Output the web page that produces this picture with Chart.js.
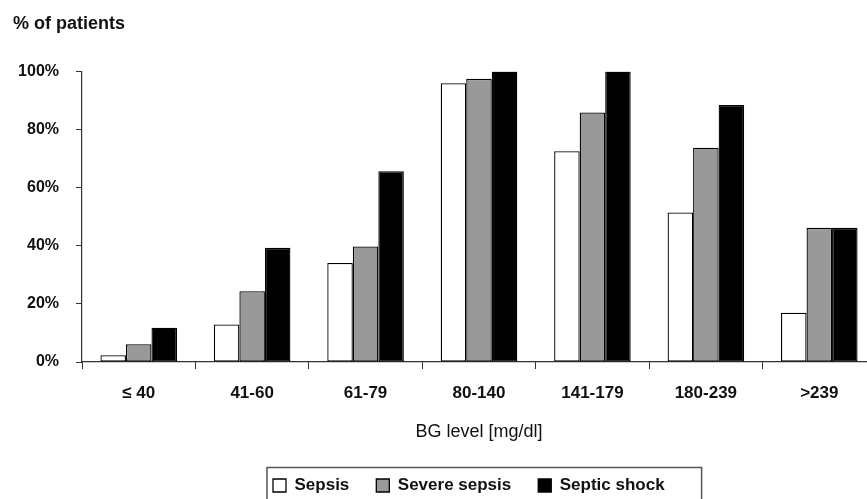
<!DOCTYPE html>
<html>
<head>
<meta charset="utf-8">
<script src="https://cdn.jsdelivr.net/npm/chart.js@4/dist/chart.umd.min.js"></script>
<style>
  html, body { margin: 0; padding: 0; background: #fff; overflow: hidden; width: 867px; height: 499px; }
  #wrap { width: 880px; height: 499px; }
</style>
</head>
<body>
<div id="wrap"><canvas id="c" width="880" height="499"></canvas></div>
<script>
const categories = ['≤ 40', '41-60', '61-79', '80-140', '141-179', '180-239', '>239'];
const seriesNames = ['Sepsis', 'Severe sepsis', 'Septic shock'];
const sepsis = [2.3, 12.9, 34.1, 96.0, 72.6, 51.5, 17.0];
const severeSepsis = [6.1, 24.4, 39.8, 97.5, 85.9, 73.8, 46.2];
const septicShock = [11.8, 39.3, 65.7, 100, 100, 88.5, 46.2];
const yTicks = [0, 20, 40, 60, 80, 100];

const FONT = "'Liberation Sans', Arial, sans-serif";

const legendBox = {
  id: 'legendBox',
  afterUpdate(chart) {
    const lg = chart.legend;
    if (!lg || !lg.legendHitBoxes || !lg.legendHitBoxes.length) return;
    const delta = 273 - lg.legendHitBoxes[0].left;
    lg.left += delta; lg.right += delta;
    lg.legendHitBoxes.forEach(h => { h.left += delta; });
  },
  afterDraw(chart) {
    const lg = chart.legend;
    const hb = lg && lg.legendHitBoxes;
    if (!hb || !hb.length) return;
    const last = hb[hb.length - 1];
    const ctx = chart.ctx;
    const l = hb[0].left - 6;
    const r = last.left + last.width + 37;
    const t = hb[0].top + hb[0].height / 2 - 18;
    ctx.save();
    ctx.strokeStyle = '#555';
    ctx.lineWidth = 1.5;
    ctx.strokeRect(l, t, r - l, chart.height + 20 - t);
    ctx.restore();
  }
};

const ds = (label, data, bg) => ({
  label, data,
  backgroundColor: bg,
  borderColor: '#000',
  borderWidth: 1.3,
  borderSkipped: false,
  categoryPercentage: 0.675,
  barPercentage: 1.0
});

new Chart(document.getElementById('c'), {
  type: 'bar',
  data: {
    labels: categories,
    datasets: [
      ds(seriesNames[0], sepsis, '#ffffff'),
      ds(seriesNames[1], severeSepsis, '#999999'),
      ds(seriesNames[2], septicShock, '#000000')
    ]
  },
  options: {
    responsive: false,
    animation: false,
    devicePixelRatio: 1,
    layout: { padding: { left: 13, right: 4, top: 0, bottom: -5 } },
    plugins: {
      tooltip: { enabled: false },
      title: {
        display: true,
        text: '% of patients',
        align: 'start',
        color: '#111',
        font: { family: FONT, size: 18, weight: 'bold' },
        padding: { top: 13, bottom: 37 }
      },
      legend: {
        position: 'bottom',
        labels: {
          color: '#111',
          font: { family: FONT, size: 17, weight: 'bold' },
          boxWidth: 13,
          boxHeight: 13,
          padding: 27
        }
      }
    },
    scales: {
      x: {
        grid: { display: true, drawOnChartArea: false, drawTicks: true, tickLength: 7, color: '#333', offset: true },
        border: { display: true, color: '#333', width: 1.2 },
        ticks: { color: '#111', font: { family: FONT, size: 17, weight: 'bold' }, padding: 14, maxRotation: 0 },
        title: {
          display: true,
          text: 'BG level [mg/dl]',
          color: '#111',
          font: { family: FONT, size: 18, weight: 'normal' },
          padding: { top: 4, bottom: 7 }
        }
      },
      y: {
        min: 0, max: 100,
        afterFit(axis) { axis.width = 69; },
        afterBuildTicks(axis) { axis.ticks = yTicks.map(v => ({ value: v })); },
        grid: { display: true, drawOnChartArea: false, drawTicks: true, tickLength: 6, color: '#333' },
        border: { display: true, color: '#333', width: 1.2 },
        ticks: {
          color: '#111',
          font: { family: FONT, size: 16, weight: 'bold' },
          padding: 17,
          callback: v => v + '%'
        }
      }
    }
  },
  plugins: [legendBox]
});
</script>
</body>
</html>
